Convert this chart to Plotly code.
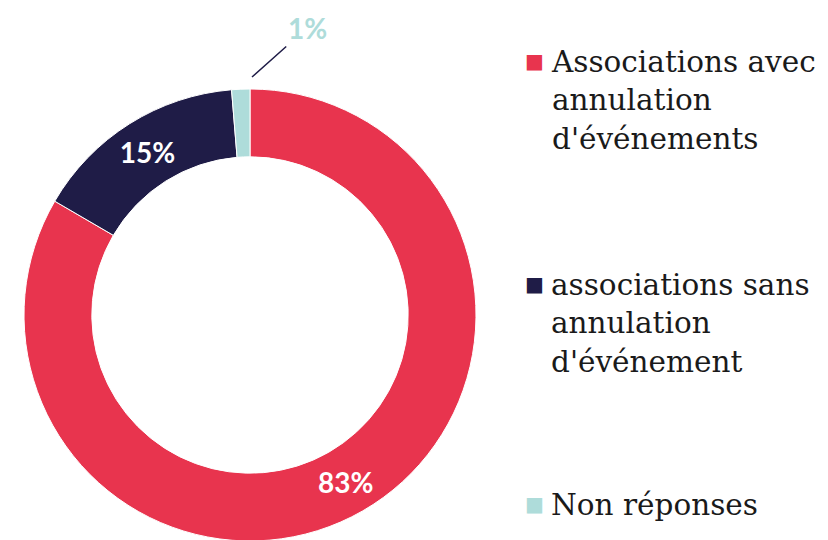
import plotly.graph_objects as go

labels = [
    "Associations avec<br>annulation<br>d'événements",
    "associations sans<br>annulation<br>d'événement",
    "Non réponses",
]
values = [83.4, 15.3, 1.3]
colors = ["#E8344E", "#1F1C47", "#AEDCDA"]
text_colors = ["#FFFFFF", "#FFFFFF", "#AEDCDA"]

W, H = 828, 540
ML, MT, MB = 16, 81, 7
PW, PH = W - ML, H - MT - MB
OFF = 8  # page body margin


def px(x):
    return (x - OFF - ML) / PW


def py(y):
    return (H - MB - (y - OFF)) / PH


fig = go.Figure(go.Pie(
    labels=labels,
    values=values,
    hole=0.70,
    sort=False,
    direction="clockwise",
    rotation=0,
    marker=dict(colors=colors, line=dict(color="#FFFFFF", width=1)),
    texttemplate=["%{percent:.0%}", "%{percent:.0%}", ""],
    textposition="inside",
    insidetextorientation="horizontal",
    textfont=dict(family="Lato", size=28, color=text_colors, weight="bold"),
    domain=dict(x=[0, PH / PW], y=[0, 1]),
    showlegend=False,
))

fig.add_annotation(
    x=px(252), y=py(77), xref="paper", yref="paper",
    text="<b>1%</b>", showarrow=True, arrowhead=0, arrowwidth=1.5,
    arrowcolor="#1F1C47", ax=55, ay=-49, standoff=0,
    font=dict(family="Lato", size=28, color=colors[2]),
)

# legend drawn as text
legend_tops = [62, 285, 505]
for lab, col, yc in zip(labels, colors, legend_tops):
    fig.add_annotation(
        x=px(534), y=py(yc - 1), xref="paper", yref="paper",
        text="■", showarrow=False, xanchor="center", yanchor="middle",
        font=dict(family="DejaVu Sans", size=20, color=col),
    )
    fig.add_annotation(
        x=px(549), y=py(yc - 19), xref="paper", yref="paper",
        text=lab, showarrow=False, xanchor="left", yanchor="top", align="left",
        font=dict(family="DejaVu Serif", size=29.5, color="#1A1A1A"),
    )

fig.update_layout(
    width=W, height=H,
    margin=dict(l=ML, r=0, t=MT, b=MB),
    paper_bgcolor="white", plot_bgcolor="white",
)

fig.write_html("out.html")
